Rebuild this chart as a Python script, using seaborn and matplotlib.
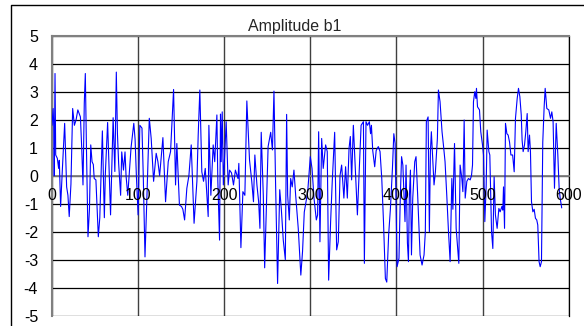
import matplotlib
matplotlib.use("Agg")
import matplotlib.pyplot as plt
from matplotlib.lines import Line2D
import seaborn as sns
import pandas as pd
import numpy as np

title = "Amplitude b1"
x_ticks = [0, 100, 200, 300, 400, 500, 600]
y_ticks = [5, 4, 3, 2, 1, 0, -1, -2, -3, -4, -5]

sample = [
    0, 1.3, 2.0, 2.6, 3.5, 4.3, 6.2, 7.7, 8.5, 10, 12, 14.7, 17, 18.5, 20, 22, 24, 26, 28, 30,
    33, 34.5, 36, 37.5, 38.7, 40, 41.8, 43.5, 45, 46.5, 48, 49, 51, 53.8, 55.5, 58.5, 60.8, 62, 64.6, 66,
    68, 69.5, 71, 73, 74.7, 76, 77.4, 79.7, 81, 83, 84.8, 86, 88, 91.8, 95, 96.5, 98, 100, 102, 104.5,
    106, 108, 110, 113, 115.2, 118, 121, 123, 125, 128.8, 131.9, 135, 137.7, 141.2, 143.5, 145, 148, 150.4, 152, 154,
    156.6, 159, 161.7, 165, 168.3, 169.8, 171.7, 174, 176, 178, 181.4, 182.2, 184.5, 187.2, 189, 191.5, 192.6, 194.6, 195.7, 196.5,
    197.7, 199, 202.3, 204.6, 206.2, 208.5, 210.8, 213, 216, 217, 219.4, 221.7, 224, 226.3, 229.4, 232, 234, 235.6, 238, 240,
    241.5, 243, 245.4, 247, 249.3, 251, 254, 256, 257.8, 259.7, 262, 264.5, 266.3, 268.6, 271, 272.5, 273.7, 275.6, 277.2, 279,
    281, 283, 286, 289, 291, 293, 297, 300, 302, 304.3, 307, 308.5, 309.7, 311.2, 313.2, 315, 317.8, 319.7, 321.3, 323.6,
    325.5, 328.3, 330.6, 332.5, 334.5, 336.4, 339, 341, 343, 345, 346.5, 348, 350, 354.7, 359, 361.7, 362.8, 364.7, 366.5, 368.6,
    370, 371, 372.5, 374.8, 376.5, 379, 381, 383, 385, 387.2, 388.8, 391, 393, 395.4, 397, 398.5, 400.8, 403, 404.5, 406,
    407.5, 409, 410, 411.2, 412.8, 414, 415, 416.3, 417.5, 419, 421.3, 422.8, 424.7, 427.5, 429.8, 432.1, 433.6, 434.8, 436.8, 438.3,
    439.5, 440.6, 442, 443.7, 445.3, 447.6, 448.8, 450.7, 453, 454.6, 456.5, 458.5, 460.5, 462.4, 464.4, 465.6, 467.5, 469.4, 472.5, 474,
    476, 477.2, 478.7, 479.9, 481.8, 483.7, 485.7, 487.2, 488.4, 489.5, 491, 492.3, 493, 494.2, 496.5, 498, 500, 501.2, 502.7, 504.3,
    505.4, 507.4, 508.5, 510.5, 512, 513.5, 515, 517, 519, 520.5, 522.5, 523.6, 524.4, 525.6, 526.7, 528.3, 529.8, 531.4, 533, 535,
    536.8, 538.3, 540.3, 541.8, 543.4, 545, 546, 547.2, 548.8, 550.3, 551.9, 553, 554.6, 555.7, 556.9, 558.5, 560, 561.5, 563, 564.2,
    565.7, 567, 568.5, 570, 571.6, 572.8, 574.7, 577, 579, 580.5, 582, 583.6, 585.6, 587.5, 589, 590.2, 592,
]
amplitude = [
    1.8, 2.4, 1.8, 0.0, 3.65, 0.74, 0.62, 0.26, 0.55, -1.1, 0.2, 1.87, -0.4, -0.7, -1.46, -0.3, 2.4, 1.8, 2.0, 2.35,
    2.1, 1.0, -0.33, 2.6, 3.65, 1.0, -2.18, -1.2, 1.1, 0.5, 0.4, -0.1, -0.15, -2.18, -1.5, 1.6, -1.5, 0.1, 1.9, 0.5,
    -1.4, 0.3, 2.07, 0.15, 3.7, 1.5, 0.44, -0.7, 0.85, 0.2, 0.85, 0.0, -0.7, 1.0, 1.87, 1.3, 0.0, -1.4, 1.8, 1.7,
    0.0, -2.9, -1.0, 2.05, 1.33, -0.2, 0.8, 0.5, 0.0, 1.36, -0.93, 0.5, 0.86, 3.08, -0.33, 1.15, -1.05, -1.1, -1.2, -1.58,
    -0.45, 0.0, 1.1, -1.7, -0.2, 1.45, 3.06, 0.14, -0.2, 0.26, -1.46, 1.8, -0.7, 1.1, 0.5, 2.17, -0.2, -2.3, 2.2, 0.5,
    2.28, -0.33, 1.93, -0.33, 0.2, 0.1, -0.33, 0.2, -0.1, 0.44, -2.57, -0.57, -0.7, 2.67, 0.56, -0.2, -0.93, 0.74, -0.33, -0.93,
    -1.88, 1.55, -0.7, -3.29, -0.8, 1.04, 1.55, 0.92, 3.02, -0.33, -3.85, -0.5, -1.17, -2.3, -3.0, 2.19, -0.7, -1.58, -0.1, -0.4,
    0.2, -0.7, -1.88, -3.55, -2.7, -1.3, -0.57, 0.68, 0.26, -0.8, -1.58, -1.4, 1.57, -2.36, 1.33, 0.26, 1.1, 0.86, -3.73, -1.64,
    -0.2, 1.55, -2.65, -2.36, 0.0, 0.38, -0.8, 0.32, -0.8, 0.98, 1.4, -0.15, 1.8, -1.4, 1.8, 1.93, -3.13, 1.93, 1.8, 1.93,
    1.5, 1.8, 0.9, 0.32, 0.9, 1.04, 0.86, -0.1, -1.64, -3.67, -3.8, -2.1, -1.2, 0.26, 1.5, 1.15, -3.25, -2.95, -0.8, 0.68,
    0.38, -0.8, -1.64, 0.38, -2.4, -3.07, -0.8, 0.2, -2.83, -0.8, 0.5, 0.68, -0.7, -2.83, -3.19, -2.83, -2.0, 1.93, 2.1, -2.0,
    0.86, 1.57, 0.74, -0.33, 0.14, 1.33, 3.06, 2.64, 1.57, 1.1, 0.5, -0.7, -2.0, -3.07, -0.1, -1.2, 1.15, -1.88, -3.13, 0.38,
    -0.1, -0.57, 1.99, -0.8, -0.2, -0.1, -0.15, 0.0, 0.38, 2.64, 3.0, 2.76, 3.12, 2.46, 2.35, 1.57, 1.1, 0.74, -1.64, -0.33,
    1.63, 0.86, 0.74, -2.0, -2.6, -0.04, -1.4, -1.88, -1.17, -1.29, -1.1, -1.23, -0.4, -1.88, 1.87, 1.5, 1.45, 1.2, 0.74, 0.74,
    0.14, 2.05, 2.76, 3.12, 2.82, 2.17, 1.27, 0.86, 1.1, 1.57, 2.22, 0.86, 1.45, 0.86, -0.93, -1.29, -1.2, -1.52, -1.58, -1.76,
    -3.07, -3.25, -3.07, 1.2, 2.46, 3.12, 2.4, 2.35, 2.05, 2.28, 1.93, -0.45, 1.87, 0.74, -0.45, -0.8, -1.15,
]

df = pd.DataFrame({"sample": sample, "amplitude": amplitude})

sns.set_style("white")
plt.rcParams["font.family"] = ["Liberation Sans", "DejaVu Sans"]

W, H = 584, 326
fig = plt.figure(figsize=(W / 100, H / 100), dpi=100)
ax = fig.add_axes([52 / W, 1 - 315.7 / H, (568.6 - 52) / W, (315.7 - 35.7) / H])

sns.lineplot(data=df, x="sample", y="amplitude", ax=ax, color="#0000FF",
             linewidth=0.8, sort=False, estimator=None, zorder=3)

ax.set_xlim(0, 600)
ax.set_ylim(-5, 5)
ax.set_xlabel("")
ax.set_ylabel("")

# grid
ax.set_xticks(x_ticks)
ax.set_yticks(y_ticks)
ax.grid(True, axis="y", color="black", linewidth=0.9)
ax.grid(True, axis="x", color="#404040", linewidth=1.0)
ax.set_axisbelow(True)

# y tick labels on left
ax.tick_params(axis="y", length=0, pad=10, labelsize=11.5, labelcolor="black")
ax.set_yticklabels([str(v) for v in y_ticks])

# x axis through zero
ax.spines["bottom"].set_position(("data", 0))
ax.spines["bottom"].set_color("#808080")
ax.spines["bottom"].set_linewidth(1.3)
ax.tick_params(axis="x", which="both", length=0, labelbottom=False)
ax.set_xticks(np.arange(0, 601, 20), minor=True)
ax.tick_params(axis="x", which="minor", direction="out", length=3.5, width=1.0, color="#808080")

for s in ["left", "top"]:
    ax.spines[s].set_color("#808080")
    ax.spines[s].set_linewidth(1.5)
ax.spines["right"].set_color("black")
ax.spines["right"].set_linewidth(0.9)

for v in x_ticks:
    ax.annotate(str(v), xy=(v, 0), xycoords="data", xytext=(0, -14),
                textcoords="offset points", ha="center", va="center",
                fontsize=11.5, color="black", zorder=5)

fig.text(295 / W, 1 - 26.5 / H, title, ha="center", va="center", fontsize=11.5)

# outer chart-area frame (left and top edges visible)
fx = [10.5 / W, 10.5 / W, 1.01]
fy = [-0.1, 1 - 4.5 / H, 1 - 4.5 / H]
fig.add_artist(Line2D(fx, fy, transform=fig.transFigure, color="black", linewidth=1.0))

fig.savefig("out.png", dpi=100)
